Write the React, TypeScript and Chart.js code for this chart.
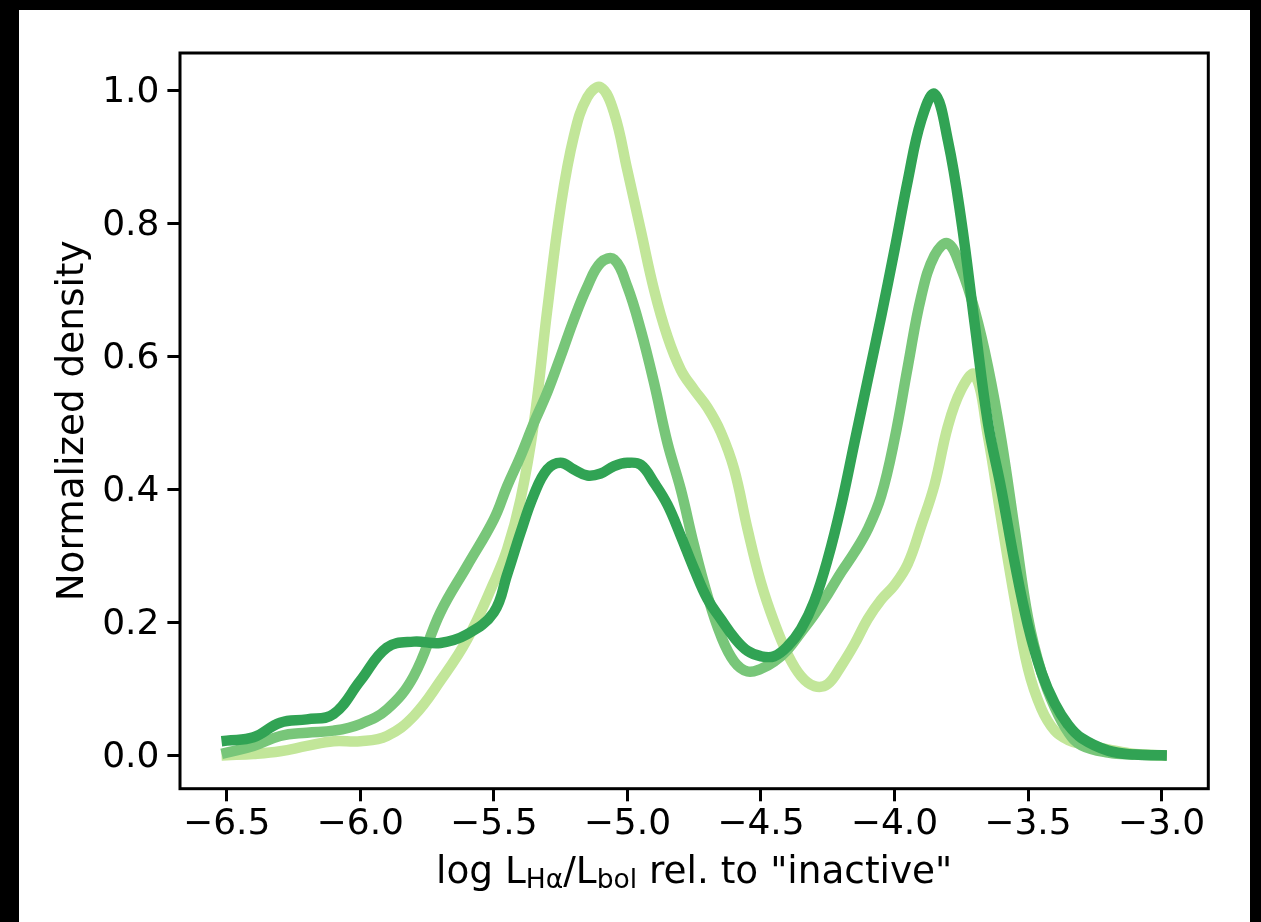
import React, { useEffect, useRef } from "react";
import { Chart, registerables } from "chart.js";

Chart.register(...registerables);

// log L_Hα/L_bol relative to "inactive"
const xValues = [
  -6.5, -6.4, -6.3, -6.2, -6.1, -6.0, -5.9, -5.8, -5.7, -5.6, -5.5, -5.45, -5.4, -5.35, -5.3, -5.25, -5.2,
  -5.15, -5.1, -5.05, -5.0, -4.95, -4.9, -4.85, -4.8, -4.75, -4.7, -4.65, -4.6, -4.55, -4.5, -4.45, -4.4,
  -4.35, -4.3, -4.25, -4.2, -4.15, -4.1, -4.05, -4.0, -3.95, -3.9, -3.85, -3.8, -3.75, -3.7, -3.65, -3.6,
  -3.55, -3.5, -3.45, -3.4, -3.35, -3.3, -3.2, -3.1, -3.0,
];

const lightDensity = [
  0.0, 0.002, 0.006, 0.014, 0.021, 0.021, 0.029, 0.059, 0.112, 0.174, 0.26, 0.31, 0.385, 0.5, 0.67, 0.825, 0.932,
  0.99, 1.005, 0.967, 0.88, 0.79, 0.7, 0.63, 0.58, 0.55, 0.523, 0.486, 0.43, 0.34, 0.26, 0.2, 0.152,
  0.119, 0.104, 0.107, 0.134, 0.167, 0.205, 0.234, 0.256, 0.288, 0.345, 0.407, 0.495, 0.55, 0.573, 0.48, 0.355,
  0.235, 0.13, 0.07, 0.037, 0.023, 0.017, 0.009, 0.002, 0.0,
];

const mediumDensity = [
  0.004, 0.014, 0.029, 0.034, 0.037, 0.047, 0.069, 0.119, 0.215, 0.285, 0.355, 0.405, 0.45, 0.5, 0.546, 0.6, 0.656,
  0.705, 0.741, 0.746, 0.705, 0.64, 0.56, 0.47, 0.4, 0.315, 0.24, 0.18, 0.141, 0.126, 0.13, 0.141, 0.159,
  0.185, 0.212, 0.242, 0.275, 0.305, 0.34, 0.39, 0.475, 0.585, 0.69, 0.752, 0.77, 0.732, 0.67, 0.585, 0.475,
  0.34, 0.207, 0.125, 0.072, 0.035, 0.015, 0.004, 0.001, 0.0,
];

const darkDensity = [
  0.022, 0.027, 0.049, 0.054, 0.062, 0.112, 0.162, 0.171, 0.169, 0.182, 0.215, 0.272, 0.335, 0.392, 0.43, 0.44, 0.43,
  0.421, 0.424, 0.435, 0.44, 0.437, 0.41, 0.377, 0.33, 0.28, 0.235, 0.205, 0.177, 0.157, 0.149, 0.149, 0.164,
  0.19, 0.232, 0.295, 0.375, 0.47, 0.565, 0.66, 0.76, 0.865, 0.955, 0.995, 0.925, 0.805, 0.65, 0.5, 0.4,
  0.29, 0.195, 0.125, 0.078, 0.046, 0.026, 0.007, 0.001, 0.0,
];

const xTicks = [-6.5, -6.0, -5.5, -5.0, -4.5, -4.0, -3.5, -3.0];
const yTicks = [0.0, 0.2, 0.4, 0.6, 0.8, 1.0];

const yTitle = "Normalized density";
const xTitleParts = [
  { text: "log L", sub: false },
  { text: "Hα", sub: true },
  { text: "/L", sub: false },
  { text: "bol", sub: true },
  { text: ' rel. to "inactive"', sub: false },
];

const FONT = "'DejaVu Sans', sans-serif";
const FS = 36;
const TITLE_FS = 37.4;

function fmt(v: number) {
  return v.toFixed(1).replace("-", "\u2212");
}

const framePlugin = {
  id: "frameAndTitle",
  afterDraw(chart: any) {
    const { ctx, chartArea: a } = chart;
    ctx.save();
    ctx.strokeStyle = "#000";
    ctx.lineWidth = 3;
    ctx.strokeRect(a.left, a.top, a.right - a.left, a.bottom - a.top);

    const subSize = TITLE_FS * 0.71;
    let total = 0;
    const widths = xTitleParts.map((p) => {
      ctx.font = `${p.sub ? subSize : TITLE_FS}px ${FONT}`;
      const w = ctx.measureText(p.text).width;
      total += w;
      return w;
    });
    let x = (a.left + a.right) / 2 - total / 2;
    const baseline = 873;
    ctx.fillStyle = "#000";
    ctx.textBaseline = "alphabetic";
    ctx.textAlign = "left";
    xTitleParts.forEach((p, i) => {
      ctx.font = `${p.sub ? subSize : TITLE_FS}px ${FONT}`;
      ctx.fillText(p.text, x, p.sub ? baseline + 5 : baseline);
      x += widths[i];
    });
    ctx.restore();
  },
};

export default function App() {
  const ref = useRef<HTMLCanvasElement>(null);

  useEffect(() => {
    if (!ref.current) return;
    const mk = (vals: number[]) => xValues.map((x, i) => ({ x, y: vals[i] }));
    const common = {
      borderWidth: 10.5,
      pointRadius: 0,
      fill: false,
      tension: 0.4,
      borderCapStyle: "square" as const,
      borderJoinStyle: "round" as const,
    };
    const chart = new Chart(ref.current, {
      type: "line",
      data: {
        datasets: [
          { label: "dark", data: mk(darkDensity), borderColor: "#31a354", order: 0, ...common },
          { label: "medium", data: mk(mediumDensity), borderColor: "#78c679", order: 1, ...common },
          { label: "light", data: mk(lightDensity), borderColor: "#c2e699", order: 2, ...common },
        ],
      },
      options: {
        animation: false,
        responsive: false,
        events: [],
        layout: { padding: { left: 0, right: 41.7, top: 43, bottom: 0 } },
        plugins: { legend: { display: false }, tooltip: { enabled: false }, title: { display: false } },
        scales: {
          x: {
            type: "linear",
            min: -6.675,
            max: -2.825,
            afterBuildTicks: (s: any) => {
              s.ticks = xTicks.map((v) => ({ value: v }));
            },
            afterFit: (s: any) => {
              s.height = 133.3;
            },
            ticks: {
              autoSkip: false,
              maxRotation: 0,
              minRotation: 0,
              padding: 2,
              color: "#000",
              font: { family: FONT, size: FS },
              callback: (v: any) => fmt(Number(v)),
            },
            grid: { drawOnChartArea: false, drawTicks: true, tickLength: 12.6, tickWidth: 3, tickColor: "#000" },
            border: { display: false },
          },
          y: {
            type: "linear",
            min: -0.0503,
            max: 1.0566,
            afterBuildTicks: (s: any) => {
              s.ticks = yTicks.map((v) => ({ value: v }));
            },
            afterFit: (s: any) => {
              s.width = 161;
            },
            ticks: {
              autoSkip: false,
              padding: 8,
              labelOffset: 2.5,
              color: "#000",
              font: { family: FONT, size: FS },
              callback: (v: any) => fmt(Number(v)),
            },
            title: {
              display: true,
              text: yTitle,
              color: "#000",
              font: { family: FONT, size: TITLE_FS },
              padding: { top: 31.5, bottom: 0 },
            },
            grid: { drawOnChartArea: false, drawTicks: true, tickLength: 12.6, tickWidth: 3, tickColor: "#000" },
            border: { display: false },
          },
        },
      },
      plugins: [framePlugin],
    });
    return () => chart.destroy();
  }, []);

  return (
    <div style={{ position: "fixed", left: 0, top: 0, width: 1261, height: 922, background: "#000" }}>
      <div style={{ position: "absolute", left: 19, top: 10, width: 1231, height: 912, background: "#fff" }}>
        <canvas ref={ref} width={1231} height={912} style={{ display: "block", width: 1231, height: 912 }} />
      </div>
    </div>
  );
}
